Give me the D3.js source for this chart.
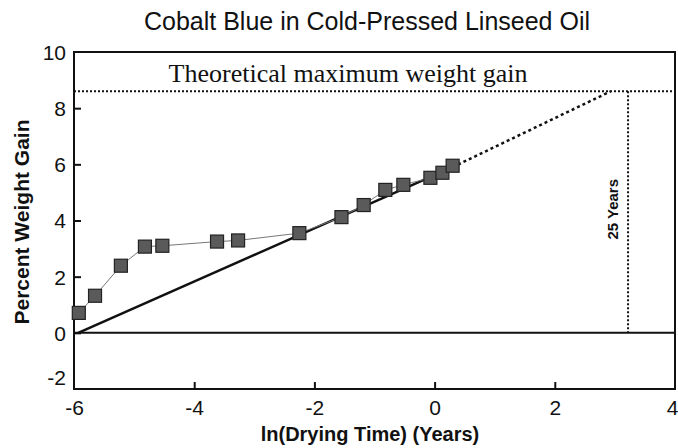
<!DOCTYPE html>
<html lang="en">
<head>
<meta charset="utf-8">
<title>Cobalt Blue in Cold-Pressed Linseed Oil</title>
<script src="https://cdn.jsdelivr.net/npm/d3@7"></script>
<style>
  body { margin: 0; background: #fff; }
  text { font-family: Arial, "Liberation Sans", sans-serif; }
</style>
</head>
<body>
<script>
// measured points: ln(drying time) vs percent weight gain
var lnTime = [-5.92, -5.65, -5.22, -4.82, -4.53, -3.62, -3.27, -2.25, -1.55, -1.18, -0.82, -0.52, -0.07, 0.13, 0.30];
var gain   = [0.71, 1.32, 2.39, 3.07, 3.10, 3.25, 3.29, 3.55, 4.12, 4.55, 5.09, 5.27, 5.52, 5.70, 5.95];

// fitted line (solid part, then the extrapolation)
var fitX = [-5.93, 0.30, 2.93];
var fitY = [0.0, 5.90, 8.6];

var maxGain = 8.6;        // theoretical maximum
var years25 = Math.log(25);

var xTicks = [-6, -4, -2, 0, 2, 4];
var yTicks = [-2, 0, 2, 4, 6, 8, 10];

var width = 678, height = 448;
var margin = {top: 52, right: 3, bottom: 59, left: 74};

var svg = d3.select("body").append("svg")
    .attr("width", width)
    .attr("height", height);

var x = d3.scaleLinear().domain([-6, 4]).range([margin.left, width - margin.right]);
var y = d3.scaleLinear().domain([-2, 10]).range([height - margin.bottom, margin.top]);

// frame
svg.append("rect")
    .attr("x", x(-6)).attr("y", y(10))
    .attr("width", x(4) - x(-6)).attr("height", y(-2) - y(10))
    .attr("fill", "none").attr("stroke", "#111").attr("stroke-width", 2);

// axes with inward ticks
var fmt = function(d) { return String(d); };
var xAxis = svg.append("g")
    .attr("transform", "translate(0," + y(-2) + ")")
    .call(d3.axisBottom(x).tickValues(xTicks).tickSize(-7).tickFormat(fmt));
var yAxis = svg.append("g")
    .attr("transform", "translate(" + x(-6) + ",0)")
    .call(d3.axisLeft(y).tickValues(yTicks).tickSize(-7).tickFormat(fmt));

[xAxis, yAxis].forEach(function(g) {
    g.select(".domain").remove();
    g.selectAll(".tick line").attr("stroke", "#111").attr("stroke-width", 2);
    g.selectAll(".tick text").attr("font-size", "21px").attr("fill", "#111")
        .style("font-family", "Arial, 'Liberation Sans', sans-serif");
});
// the end labels sit on the frame corners
xAxis.selectAll(".tick").filter(function(d) { return d === -6 || d === 4; }).select("line").remove();
yAxis.selectAll(".tick").filter(function(d) { return d === -2 || d === 10; }).select("line").remove();
yAxis.selectAll(".tick text").attr("x", -8).attr("dy", "0.35em");
yAxis.selectAll(".tick").filter(function(d) { return d === -2; }).select("text").attr("dy", "-0.2em");
xAxis.selectAll(".tick text").attr("y", 9).attr("dy", "0.8em");
xAxis.selectAll(".tick").filter(function(d) { return d === 4; }).select("text").attr("text-anchor", "end").attr("x", 3);

// zero line
svg.append("line")
    .attr("x1", x(-6)).attr("x2", x(4))
    .attr("y1", y(0)).attr("y2", y(0))
    .attr("stroke", "#111").attr("stroke-width", 2);

// theoretical maximum
svg.append("line")
    .attr("x1", x(-6)).attr("x2", x(4))
    .attr("y1", y(maxGain)).attr("y2", y(maxGain))
    .attr("stroke", "#111").attr("stroke-width", 2)
    .attr("stroke-dasharray", "2,2");

svg.append("text")
    .attr("x", 348).attr("y", 82)
    .attr("text-anchor", "middle")
    .style("font-family", "'Liberation Serif', 'Times New Roman', serif")
    .attr("font-size", "26px")
    .attr("fill", "#111")
    .text("Theoretical maximum weight gain");

// 25 years marker
svg.append("line")
    .attr("x1", x(years25)).attr("x2", x(years25))
    .attr("y1", y(maxGain)).attr("y2", y(0))
    .attr("stroke", "#111").attr("stroke-width", 2)
    .attr("stroke-dasharray", "2,2");

svg.append("text")
    .attr("transform", "translate(" + (x(years25) - 10) + "," + y(4.4) + ") rotate(-90)")
    .attr("text-anchor", "middle")
    .attr("font-size", "15px")
    .attr("font-weight", "bold")
    .attr("fill", "#111")
    .text("25 Years");

// fit line
svg.append("line")
    .attr("x1", x(fitX[0])).attr("y1", y(fitY[0]))
    .attr("x2", x(fitX[1])).attr("y2", y(fitY[1]))
    .attr("stroke", "#111").attr("stroke-width", 2.5);
svg.append("line")
    .attr("x1", x(fitX[1])).attr("y1", y(fitY[1]))
    .attr("x2", x(fitX[2])).attr("y2", y(fitY[2]))
    .attr("stroke", "#111").attr("stroke-width", 2.5)
    .attr("stroke-dasharray", "3,3");

// data connecting line
var pts = lnTime.map(function(d, i) { return [d, gain[i]]; });
svg.append("path")
    .datum(pts)
    .attr("fill", "none")
    .attr("stroke", "#777")
    .attr("stroke-width", 1)
    .attr("d", d3.line().x(function(d) { return x(d[0]); }).y(function(d) { return y(d[1]); }));

var sq = 13;
svg.selectAll("rect.pt")
    .data(pts)
    .enter()
    .append("rect")
    .attr("class", "pt")
    .attr("x", function(d) { return x(d[0]) - sq / 2; })
    .attr("y", function(d) { return y(d[1]) - sq / 2; })
    .attr("width", sq).attr("height", sq)
    .attr("fill", "#5a5a5a")
    .attr("stroke", "#222")
    .attr("stroke-width", 1.2);

// titles
svg.append("text")
    .attr("x", 367).attr("y", 30)
    .attr("text-anchor", "middle")
    .attr("font-size", "25px")
    .attr("fill", "#111")
    .text("Cobalt Blue in Cold-Pressed Linseed Oil");

svg.append("text")
    .attr("x", 370).attr("y", 441)
    .attr("text-anchor", "middle")
    .attr("font-size", "20px")
    .attr("font-weight", "bold")
    .attr("fill", "#111")
    .text("ln(Drying Time) (Years)");

svg.append("text")
    .attr("transform", "translate(29,222) rotate(-90)")
    .attr("text-anchor", "middle")
    .attr("font-size", "21px")
    .attr("font-weight", "bold")
    .attr("fill", "#111")
    .text("Percent Weight Gain");
</script>
</body>
</html>
